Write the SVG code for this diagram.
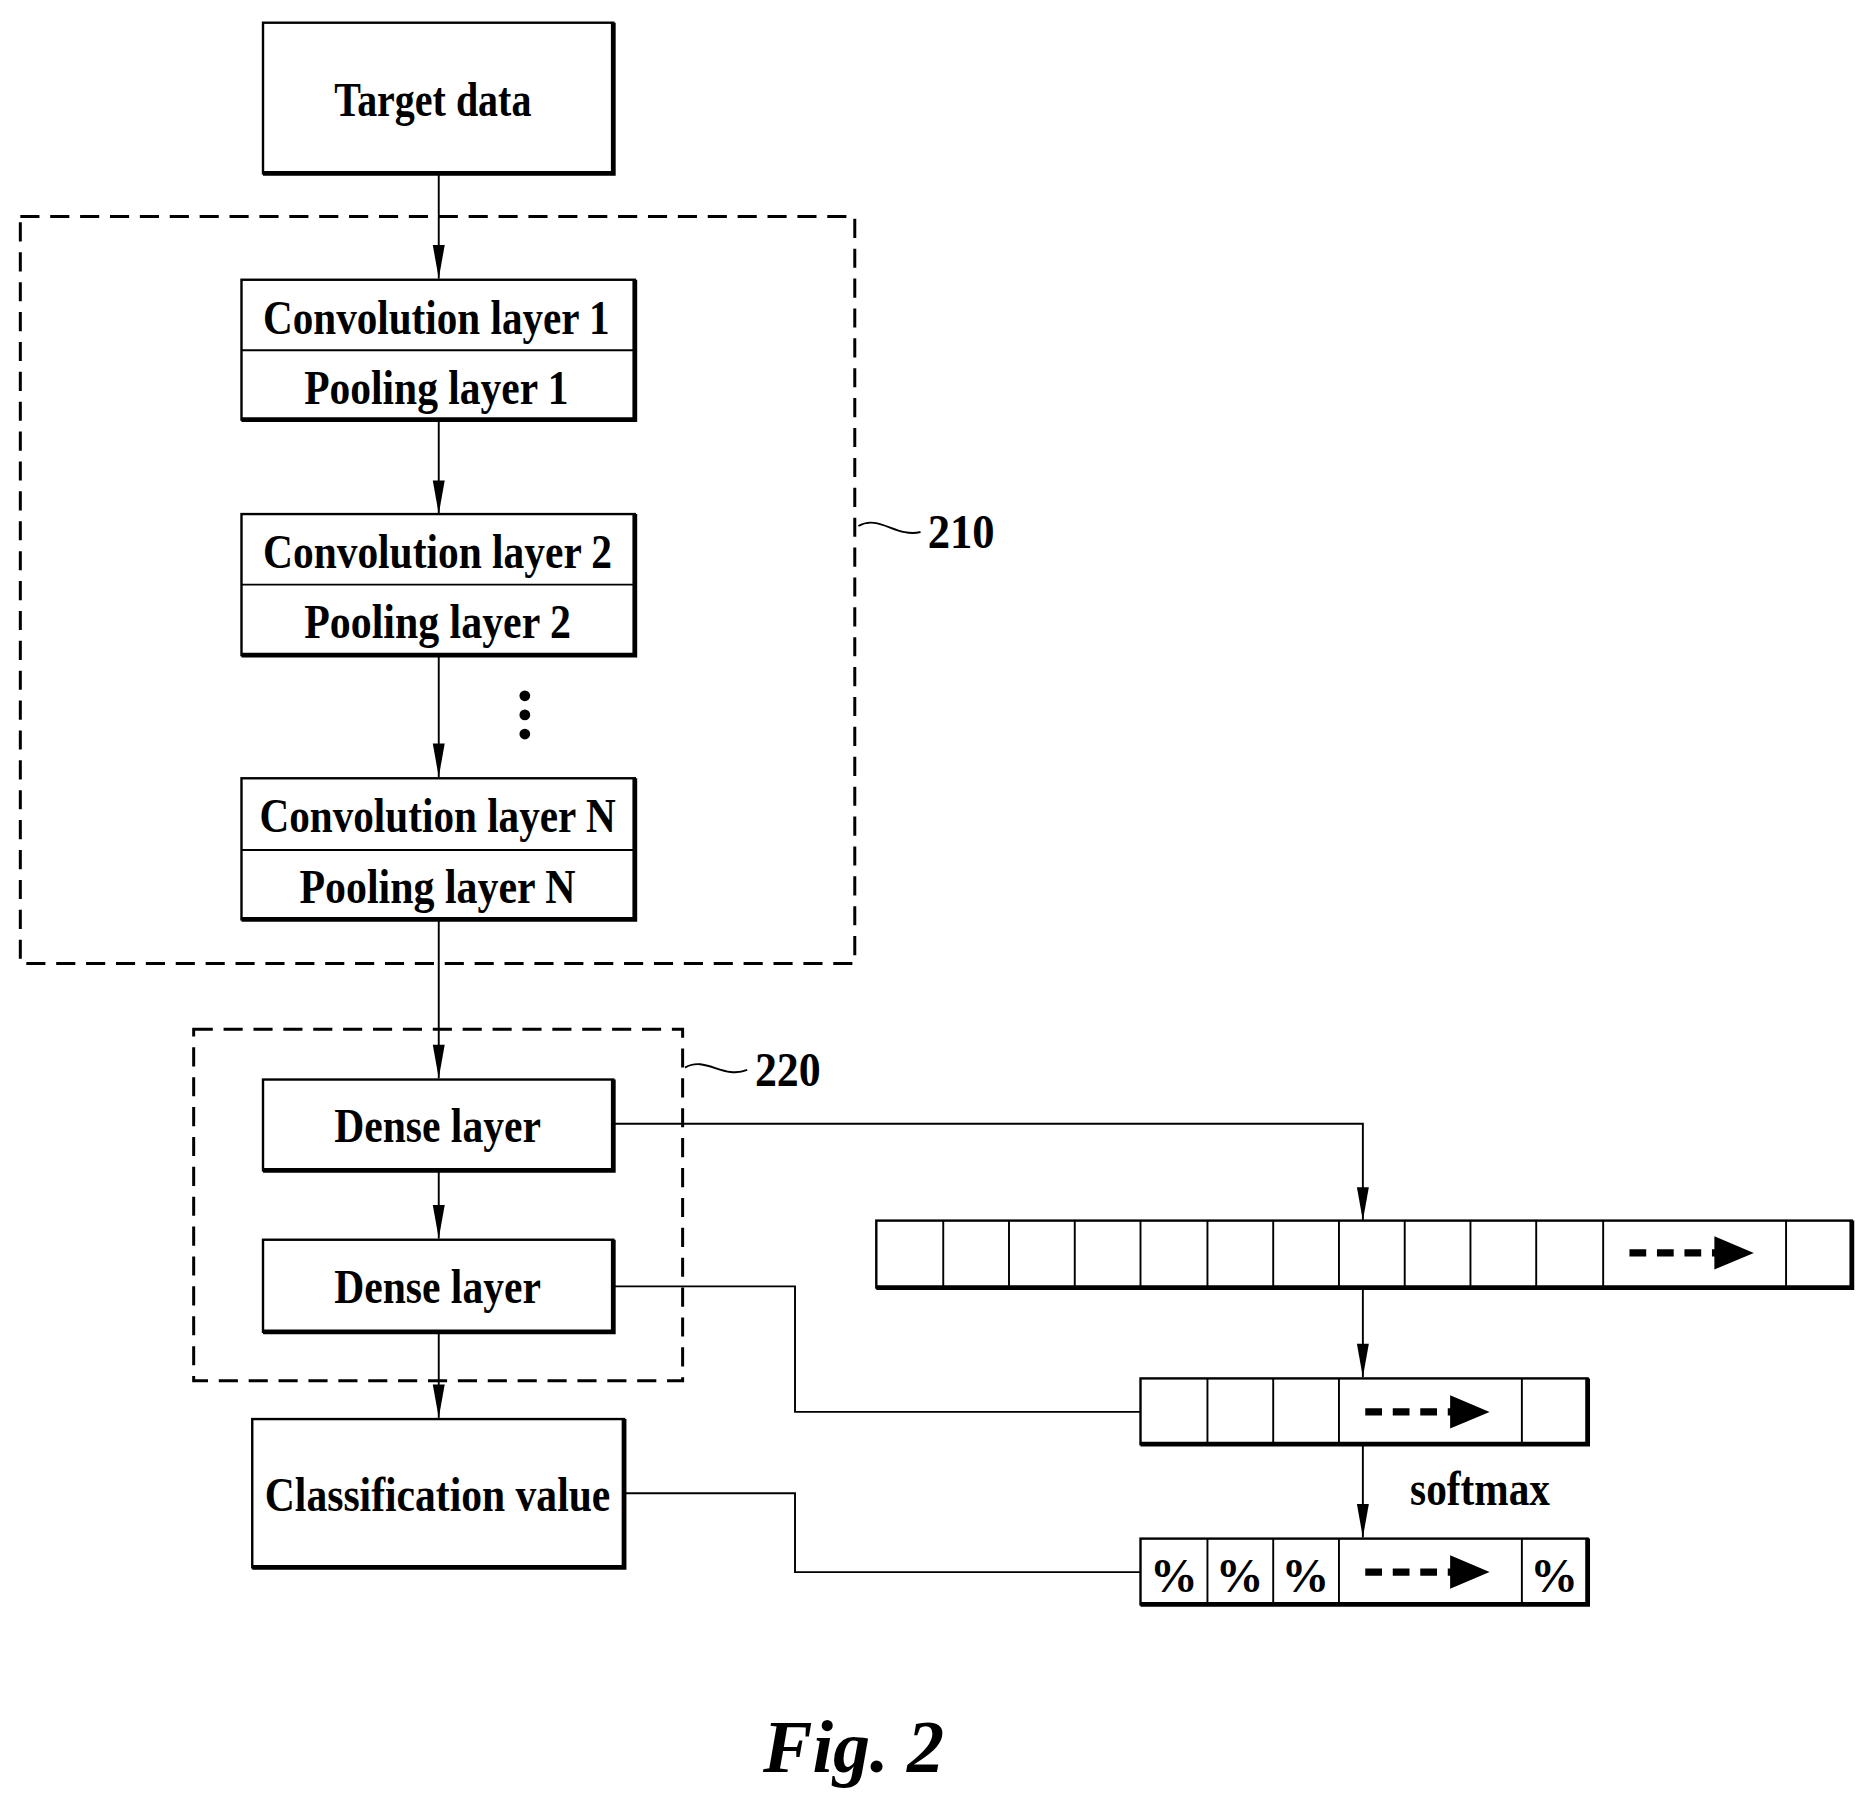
<svg xmlns="http://www.w3.org/2000/svg" width="1865" height="1799" viewBox="0 0 1865 1799">
<style>
.b{fill:#fff;stroke:#000;stroke-width:2}
.sh{stroke:#000;stroke-width:4;fill:none}
.l{stroke:#000;stroke-width:1.6;fill:none}
.d{stroke:#000;stroke-width:2.5;fill:none;stroke-dasharray:16,9}
.t{font-family:"Liberation Serif",serif;font-size:40px;font-weight:bold;text-anchor:middle;fill:#000}
.da{stroke:#000;stroke-width:6;stroke-dasharray:14,9;fill:none}
</style>
<rect width="1865" height="1799" fill="#fff"/>
<g transform="scale(1.1955)">
<g id="connectors">
<line class="l" x1="367" y1="145" x2="367" y2="233"/><path d="M362,205 L372,205 L367,233Z"/>
<line class="l" x1="367" y1="351" x2="367" y2="430"/><path d="M362,402 L372,402 L367,430Z"/>
<line class="l" x1="367" y1="548" x2="367" y2="650"/><path d="M362,622 L372,622 L367,650Z"/>
<line class="l" x1="367" y1="769" x2="367" y2="902"/><path d="M362,874 L372,874 L367,902Z"/>
<line class="l" x1="367" y1="979" x2="367" y2="1036"/><path d="M362,1008 L372,1008 L367,1036Z"/>
<line class="l" x1="367" y1="1114" x2="367" y2="1186"/><path d="M362,1158 L372,1158 L367,1186Z"/>
<polyline class="l" points="513,940 1140,940 1140,1021"/><path d="M1135,993 L1145,993 L1140,1021Z"/>
<line class="l" x1="1140" y1="1077" x2="1140" y2="1152"/><path d="M1135,1124 L1145,1124 L1140,1152Z"/>
<line class="l" x1="1140" y1="1208" x2="1140" y2="1286"/><path d="M1135,1258 L1145,1258 L1140,1286Z"/>
<polyline class="l" points="513,1076 665,1076 665,1181 954,1181"/>
<polyline class="l" points="522,1249 665,1249 665,1315 954,1315"/>
</g>
<g id="g210">
<rect class="d" x="17" y="181" width="698" height="625"/>
<path class="l" d="M718,440 C735,430 750,450 770,445"/>
<text class="t" x="804" y="458" textLength="56" lengthAdjust="spacingAndGlyphs">210</text>
</g>
<g id="g220">
<rect class="d" x="162" y="861" width="409" height="294"/>
<path class="l" d="M573,893 C590,883 605,903 625,895"/>
<text class="t" x="659" y="908" textLength="55" lengthAdjust="spacingAndGlyphs">220</text>
</g>
<g id="target">
<rect class="b" x="220" y="19" width="293" height="126"/>
<polyline class="sh" points="513,19 513,145 220,145"/>
<text class="t" x="362" y="97" textLength="165" lengthAdjust="spacingAndGlyphs">Target data</text>
</g>
<g id="conv1">
<rect class="b" x="202" y="234" width="329" height="117"/><line class="l" x1="202" y1="293" x2="531" y2="293"/>
<polyline class="sh" points="531,234 531,351 202,351"/>
<text class="t" x="365" y="279" textLength="290" lengthAdjust="spacingAndGlyphs">Convolution layer 1</text>
<text class="t" x="365" y="338" textLength="221" lengthAdjust="spacingAndGlyphs">Pooling layer 1</text>
</g>
<g id="conv2">
<rect class="b" x="202" y="430" width="329" height="118"/><line class="l" x1="202" y1="489" x2="531" y2="489"/>
<polyline class="sh" points="531,430 531,548 202,548"/>
<text class="t" x="366" y="475" textLength="292" lengthAdjust="spacingAndGlyphs">Convolution layer 2</text>
<text class="t" x="366" y="534" textLength="223" lengthAdjust="spacingAndGlyphs">Pooling layer 2</text>
</g>
<g id="dots"><circle cx="439" cy="582" r="4.5"/><circle cx="439" cy="598" r="4.5"/><circle cx="439" cy="614" r="4.5"/></g>
<g id="convN">
<rect class="b" x="202" y="651" width="329" height="118"/><line class="l" x1="202" y1="711" x2="531" y2="711"/>
<polyline class="sh" points="531,651 531,769 202,769"/>
<text class="t" x="366" y="696" textLength="298" lengthAdjust="spacingAndGlyphs">Convolution layer N</text>
<text class="t" x="366" y="755" textLength="231" lengthAdjust="spacingAndGlyphs">Pooling layer N</text>
</g>
<g id="dense1">
<rect class="b" x="220" y="903" width="293" height="76"/>
<polyline class="sh" points="513,903 513,979 220,979"/>
<text class="t" x="366" y="955" textLength="173" lengthAdjust="spacingAndGlyphs">Dense layer</text>
</g>
<g id="dense2">
<rect class="b" x="220" y="1037" width="293" height="77"/>
<polyline class="sh" points="513,1037 513,1114 220,1114"/>
<text class="t" x="366" y="1090" textLength="173" lengthAdjust="spacingAndGlyphs">Dense layer</text>
</g>
<g id="classification">
<rect class="b" x="211" y="1187" width="311" height="124"/>
<polyline class="sh" points="522,1187 522,1311 211,1311"/>
<text class="t" x="366" y="1264" textLength="289" lengthAdjust="spacingAndGlyphs">Classification value</text>
</g>
<g id="array1">
<rect class="b" x="733" y="1021" width="816" height="56"/>
<polyline class="sh" points="1549,1021 1549,1077 733,1077"/>
<path class="l" d="M789,1021V1077M844,1021V1077M899,1021V1077M954,1021V1077M1010,1021V1077M1065,1021V1077M1120,1021V1077M1175,1021V1077M1230,1021V1077M1285,1021V1077M1341,1021V1077M1494,1021V1077"/>
<line class="da" x1="1363" y1="1048" x2="1440" y2="1048"/><path d="M1434,1034 L1467,1048 L1434,1062Z"/>
</g>
<g id="array2">
<rect class="b" x="954" y="1153" width="374" height="55"/>
<polyline class="sh" points="1328,1153 1328,1208 954,1208"/>
<path class="l" d="M1010,1153V1208M1065,1153V1208M1120,1153V1208M1273,1153V1208"/>
<line class="da" x1="1142" y1="1181" x2="1219" y2="1181"/><path d="M1213,1167 L1246,1181 L1213,1195Z"/>
</g>
<text class="t" x="1238" y="1259" textLength="117" lengthAdjust="spacingAndGlyphs">softmax</text>
<g id="array3">
<rect class="b" x="954" y="1287" width="374" height="55"/>
<polyline class="sh" points="1328,1287 1328,1342 954,1342"/>
<path class="l" d="M1010,1287V1342M1065,1287V1342M1120,1287V1342M1273,1287V1342"/>
<line class="da" x1="1142" y1="1315" x2="1219" y2="1315"/><path d="M1213,1301 L1246,1315 L1213,1329Z"/>
<text class="t" x="982" y="1332">%</text><text class="t" x="1037" y="1332">%</text><text class="t" x="1092" y="1332">%</text><text class="t" x="1300" y="1332">%</text>
</g>
<text x="714" y="1482" style="font-family:'Liberation Serif',serif;font-size:62px;font-weight:bold;font-style:italic;text-anchor:middle">Fig. 2</text>
</g>
</svg>
